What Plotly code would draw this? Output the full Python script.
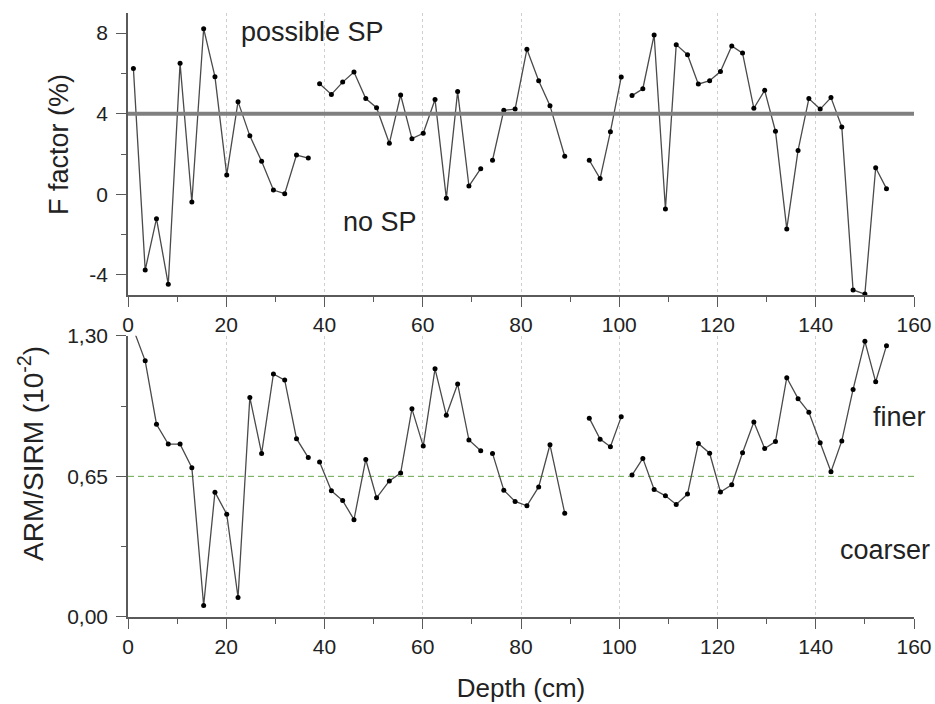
import plotly.graph_objects as go

# ---------------- data ----------------
depth_cm = [1.1, 3.5, 5.8, 8.2, 10.6, 13.0, 15.4, 17.7, 20.1, 22.4, 24.8, 27.2, 29.6, 31.9, 34.3, 36.7,
            None,
            39.0, 41.4, 43.7, 46.0, 48.4, 50.6, 53.2, 55.5, 57.8, 60.1, 62.5, 64.8, 67.1, 69.4, 71.8,
            None,
            74.2, 76.5, 78.8, 81.2, 83.6, 85.9, 88.9,
            None,
            93.9, 96.1, 98.2, 100.4,
            None,
            102.6, 104.8, 107.1, 109.4, 111.6, 113.9, 116.1, 118.4, 120.6, 122.9, 125.1, 127.4, 129.6,
            131.8, 134.1, 136.4, 138.6, 140.9, 143.1, 145.3, 147.6, 150.0, 152.2, 154.4]

f_factor = [6.25, -3.76, -1.21, -4.47, 6.5, -0.38, 8.22, 5.84, 0.96, 4.6, 2.9, 1.64, 0.21, 0.03, 1.95, 1.8,
            None,
            5.49, 4.96, 5.57, 6.07, 4.75, 4.3, 2.53, 4.93, 2.76, 3.03, 4.71, -0.2, 5.1, 0.41, 1.27,
            None,
            1.69, 4.17, 4.23, 7.2, 5.64, 4.4, 1.89,
            None,
            1.69, 0.78, 3.11, 5.82,
            None,
            4.9, 5.24, 7.91, -0.73, 7.43, 6.93, 5.47, 5.64, 6.09, 7.36, 7.01, 4.27, 5.16,
            3.13, -1.72, 2.18, 4.75, 4.23, 4.8, 3.34, -4.75, -4.95, 1.32, 0.28]

arm_sirm = [1.33, 1.184, 0.891, 0.799, 0.799, 0.690, 0.053, 0.577, 0.475, 0.090, 1.015, 0.756, 1.123, 1.095, 0.824, 0.737,
            None,
            0.716, 0.583, 0.538, 0.450, 0.728, 0.551, 0.629, 0.665, 0.962, 0.790, 1.147, 0.932, 1.077, 0.818, 0.768,
            None,
            0.756, 0.586, 0.534, 0.514, 0.601, 0.796, 0.480,
            None,
            0.919, 0.822, 0.787, 0.925,
            None,
            0.656, 0.733, 0.589, 0.560, 0.520, 0.568, 0.802, 0.757, 0.578, 0.611, 0.759, 0.901, 0.779,
            0.811, 1.106, 1.009, 0.946, 0.805, 0.671, 0.814, 1.052, 1.274, 1.087, 1.254]

f_threshold = 4.0
arm_threshold = 0.65

x_ticks = [0, 20, 40, 60, 80, 100, 120, 140, 160]
x_ticktext = ["0", "20", "40", "60", "80", "100", "120", "140", "160"]
f_ticks = [-4, 0, 4, 8]
f_ticktext = ["-4", "0", "4", "8"]
f_minor = [-2, 2, 6]
arm_ticks = [0.0, 0.65, 1.30]
arm_ticktext = ["0,00", "0,65", "1,30"]
arm_minor = [0.325, 0.975]

# ---------------- styling ----------------
FONT = "Liberation Sans, Arial, sans-serif"
AXIS_COL = "#5a5a5a"
TXT_COL = "#222222"
LINE_COL = "#4a4a4a"

fig = go.Figure()

fig.add_trace(go.Scatter(
    x=depth_cm, y=f_factor, mode="lines+markers", connectgaps=False,
    line=dict(color=LINE_COL, width=1.3),
    marker=dict(color="black", size=5),
    cliponaxis=False, xaxis="x", yaxis="y", showlegend=False))

fig.add_trace(go.Scatter(
    x=[0, 160], y=[f_threshold, f_threshold], mode="lines",
    line=dict(color="#808080", width=4),
    xaxis="x", yaxis="y", showlegend=False, hoverinfo="skip"))

fig.add_trace(go.Scatter(
    x=[0, 160], y=[arm_threshold, arm_threshold], mode="lines",
    line=dict(color="#6aa84f", width=1, dash="6px,4px"),
    xaxis="x2", yaxis="y2", showlegend=False, hoverinfo="skip"))

fig.add_trace(go.Scatter(
    x=depth_cm, y=arm_sirm, mode="lines+markers", connectgaps=False,
    line=dict(color=LINE_COL, width=1.3),
    marker=dict(color="black", size=5),
    cliponaxis=True, xaxis="x2", yaxis="y2", showlegend=False))

xcommon = dict(
    range=[0, 160], tickvals=x_ticks, ticktext=x_ticktext,
    showline=True, linecolor=AXIS_COL, linewidth=1.5,
    ticks="outside", ticklen=10, tickwidth=1.2, tickcolor=AXIS_COL,
    minor=dict(dtick=10, tick0=0, ticks="outside", ticklen=5, tickwidth=1.2,
               tickcolor=AXIS_COL, showgrid=False),
    showgrid=True, gridcolor="#cfcfcf", griddash="dot", gridwidth=1,
    zeroline=False, automargin=False,
    tickfont=dict(family=FONT, size=21, color=TXT_COL),
)

ycommon = dict(
    showline=True, linecolor=AXIS_COL, linewidth=1.5,
    ticks="outside", ticklen=10, tickwidth=1.2, tickcolor=AXIS_COL,
    showgrid=False, zeroline=False, automargin=False,
    ticklabelstandoff=4,
    tickfont=dict(family=FONT, size=21, color=TXT_COL),
)

fig.update_layout(
    width=935, height=704,
    margin=dict(l=128, r=21, t=13, b=87, autoexpand=False),
    paper_bgcolor="white", plot_bgcolor="white",
    separators=", ",
    xaxis=dict(domain=[0, 1], anchor="y", **xcommon),
    yaxis=dict(domain=[0.5331, 1.0], anchor="x", range=[-5, 9],
               tickvals=f_ticks, ticktext=f_ticktext,
               minor=dict(tickvals=f_minor, ticks="outside", ticklen=5, tickwidth=1.2,
                          tickcolor=AXIS_COL, showgrid=False),
               **ycommon),
    xaxis2=dict(domain=[0, 1], anchor="y2",
                title=dict(text="Depth (cm)", standoff=22,
                           font=dict(family=FONT, size=26, color=TXT_COL)),
                **xcommon),
    yaxis2=dict(domain=[0, 0.4657], anchor="x2", range=[0, 1.30],
                tickvals=arm_ticks, ticktext=arm_ticktext,
                minor=dict(tickvals=arm_minor, ticks="outside", ticklen=5, tickwidth=1.2,
                           tickcolor=AXIS_COL, showgrid=False),
                **ycommon),
    annotations=[
        dict(text="F factor (%)", x=-0.0878, y=0.783, xref="paper", yref="paper",
             showarrow=False, textangle=-90, xanchor="center", yanchor="middle",
             font=dict(family=FONT, size=27, color=TXT_COL)),
        dict(text="ARM/SIRM (10<sup>-2</sup>)", x=-0.1234, y=0.270, xref="paper", yref="paper",
             showarrow=False, textangle=-90, xanchor="center", yanchor="middle",
             font=dict(family=FONT, size=28, color=TXT_COL)),
        dict(text="possible SP", x=37.5, y=8.04, xref="x", yref="y", showarrow=False,
             xanchor="center", yanchor="middle",
             font=dict(family=FONT, size=27, color=TXT_COL)),
        dict(text="no SP", x=51.2, y=-1.39, xref="x", yref="y", showarrow=False,
             xanchor="center", yanchor="middle",
             font=dict(family=FONT, size=27, color=TXT_COL)),
        dict(text="finer", x=157, y=0.924, xref="x2", yref="y2", showarrow=False,
             xanchor="center", yanchor="middle",
             font=dict(family=FONT, size=27, color=TXT_COL)),
        dict(text="coarser", x=154, y=0.309, xref="x2", yref="y2", showarrow=False,
             xanchor="center", yanchor="middle",
             font=dict(family=FONT, size=27, color=TXT_COL)),
    ],
)

fig.write_html(
    "out.html",
    config={"displayModeBar": False},
    post_script="document.body.style.margin='0px'; document.body.style.overflow='hidden';",
)
